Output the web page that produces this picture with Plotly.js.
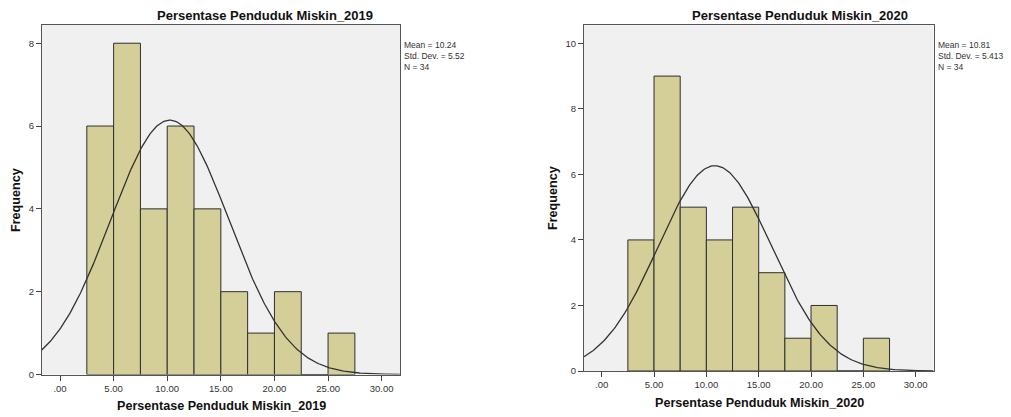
<!DOCTYPE html>
<html>
<head>
<meta charset="utf-8">
<script src="https://cdn.plot.ly/plotly-3.0.1.min.js"></script>
<style>html,body{margin:0;padding:0;background:#fff;}#chart{width:1011px;height:417px;}</style>
</head>
<body>
<div id="chart"></div>
<script>
// ---- data ----
var binCenters = [3.75, 6.25, 8.75, 11.25, 13.75, 16.25, 18.75, 21.25, 23.75, 26.25];
var binWidth = 2.5;
var counts2019 = [6, 8, 4, 6, 4, 2, 1, 2, 0, 1];
var counts2020 = [4, 9, 5, 4, 5, 3, 1, 2, 0, 1];
var stats2019 = [10.24, 5.52, 34];   // mean, std dev, N
var stats2020 = [10.81, 5.413, 34];
var xTickVals = [0, 5, 10, 15, 20, 25, 30];
var xTickText = [".00", "5.00", "10.00", "15.00", "20.00", "25.00", "30.00"];
var yTicks2019 = [0, 2, 4, 6, 8];
var yTicks2020 = [0, 2, 4, 6, 8, 10];
var titles = ["Persentase Penduduk Miskin_2019", "Persentase Penduduk Miskin_2020"];

// ---- normal curve from stated mean / sd / N ----
function normalCurve(st, x0, x1) {
  var xs = [], ys = [];
  var n = 300;
  for (var i = 0; i <= n; i++) {
    var x = x0 + (x1 - x0) * i / n;
    var z = (x - st[0]) / st[1];
    xs.push(x);
    ys.push(st[2] * binWidth * Math.exp(-0.5 * z * z) / (st[1] * Math.sqrt(2 * Math.PI)));
  }
  return {x: xs, y: ys};
}

var W = 1011, H = 417;
function px(v) { return v / W; }
function py(v) { return 1 - v / H; }

var barColor = '#d4cf98';
var edge = '#2e2e2e';

var c1 = normalCurve(stats2019, -1.7, 31.7);
var c2 = normalCurve(stats2020, -1.7, 31.7);

var traces = [
  {type: 'bar', x: binCenters, y: counts2019, width: binWidth, xaxis: 'x', yaxis: 'y',
   marker: {color: barColor, line: {color: edge, width: 1}}, hoverinfo: 'skip'},
  {type: 'scatter', mode: 'lines', x: c1.x, y: c1.y, xaxis: 'x', yaxis: 'y',
   line: {color: '#333333', width: 1.3}, hoverinfo: 'skip', cliponaxis: true},
  {type: 'bar', x: binCenters, y: counts2020, width: binWidth, xaxis: 'x2', yaxis: 'y2',
   marker: {color: barColor, line: {color: edge, width: 1}}, hoverinfo: 'skip'},
  {type: 'scatter', mode: 'lines', x: c2.x, y: c2.y, xaxis: 'x2', yaxis: 'y2',
   line: {color: '#333333', width: 1.3}, hoverinfo: 'skip', cliponaxis: true}
];

var tickFont = {family: 'Liberation Sans, Arial, sans-serif', size: 9.5, color: '#333'};
function xax(domain, range, anchor) {
  return {domain: domain, range: range, anchor: anchor, tickvals: xTickVals, ticktext: xTickText,
    ticks: 'outside', ticklen: 5, tickcolor: '#444', tickfont: tickFont, showgrid: false, zeroline: false,
    showline: true, linecolor: '#555', linewidth: 1, mirror: true, fixedrange: true};
}
function yax(domain, range, anchor, tv) {
  return {domain: domain, range: range, anchor: anchor, tickvals: tv,
    ticks: 'outside', ticklen: 5, tickcolor: '#444', tickfont: tickFont, showgrid: false, zeroline: false,
    showline: true, linecolor: '#555', linewidth: 1, mirror: true, fixedrange: true};
}

var titleFont = {family: 'Liberation Sans, Arial, sans-serif', size: 13, color: '#111', weight: 'bold'};
var axTitleFont = {family: 'Liberation Sans, Arial, sans-serif', size: 12.6, color: '#111', weight: 'bold'};
var statFont = {family: 'Liberation Sans, Arial, sans-serif', size: 8.5, color: '#333'};

function ann(text, x, y, font, opts) {
  var a = {text: text, xref: 'paper', yref: 'paper', x: px(x), y: py(y), showarrow: false,
    font: font, xanchor: 'center', yanchor: 'middle'};
  for (var k in (opts || {})) a[k] = opts[k];
  return a;
}

function statText(st, dp) {
  return 'Mean = ' + st[0].toFixed(2) + '<br>Std. Dev. = ' + st[1].toFixed(dp) + '<br>N = ' + st[2];
}

var annotations = [
  ann('<b>' + titles[0] + '</b>', 265, 15, titleFont),
  ann('<b>' + titles[1] + '</b>', 800, 15, titleFont),
  ann('<b>' + titles[0] + '</b>', 221, 406, axTitleFont),
  ann('<b>' + titles[1] + '</b>', 759, 403, axTitleFont),
  ann('<b>Frequency</b>', 16, 200, axTitleFont, {textangle: -90}),
  ann('<b>Frequency</b>', 553, 198, axTitleFont, {textangle: -90}),
  ann(statText(stats2019, 2), 403, 39, statFont, {xanchor: 'left', yanchor: 'top', align: 'left', borderpad: 0}),
  ann(statText(stats2020, 3), 937, 39, statFont, {xanchor: 'left', yanchor: 'top', align: 'left', borderpad: 0})
];

var layout = {
  width: W, height: H, margin: {l: 0, r: 0, t: 0, b: 0},
  paper_bgcolor: '#ffffff', plot_bgcolor: '#f0f0f0', showlegend: false, bargap: 0,
  xaxis: xax([px(42), px(400)], [-1.68, 31.71], 'y'),
  yaxis: yax([py(374.5), py(25)], [0, 8.44], 'x', yTicks2019),
  xaxis2: xax([px(584), px(933.5)], [-1.69, 31.70], 'y2'),
  yaxis2: yax([py(371), py(25.3)], [0, 10.55], 'x2', yTicks2020),
  annotations: annotations
};

Plotly.newPlot('chart', traces, layout, {displayModeBar: false, staticPlot: true});
</script>
</body>
</html>
